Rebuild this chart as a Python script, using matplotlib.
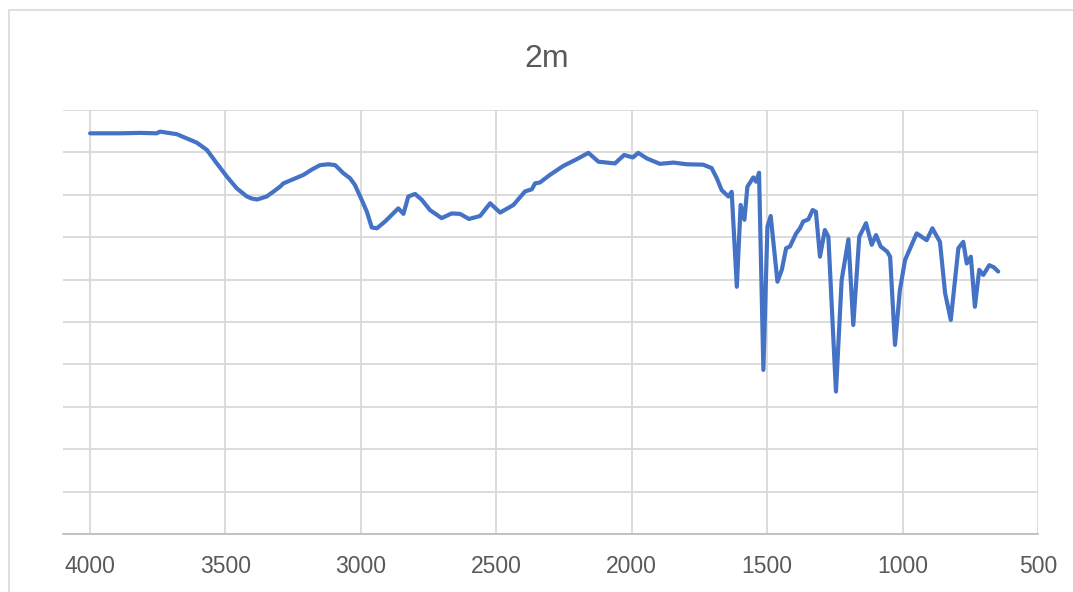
import numpy as np
import matplotlib
matplotlib.use('Agg')
import matplotlib.pyplot as plt
from matplotlib import font_manager
from matplotlib.patches import Rectangle

# IR spectrum values
wavenumber = [4000, 3889, 3815, 3754, 3742, 3680, 3643, 3606, 3569, 3532,
              3495, 3458, 3421, 3402, 3383, 3363, 3348, 3322, 3299, 3286,
              3212, 3180, 3151, 3120, 3095, 3065, 3040, 3022, 2997, 2978,
              2960, 2941, 2911, 2862, 2843, 2825, 2800, 2775, 2745, 2702,
              2665, 2634, 2601, 2560, 2523, 2486, 2437, 2394, 2369, 2357,
              2339, 2302, 2253, 2203, 2160, 2123, 2092, 2062, 2028, 1996,
              1976, 1945, 1896, 1846, 1797, 1736, 1705, 1686, 1668, 1643,
              1631, 1612, 1598, 1584, 1573, 1551, 1541, 1530, 1514, 1499,
              1487, 1462, 1446, 1430, 1416, 1393, 1379, 1367, 1348, 1332,
              1320, 1305, 1287, 1274, 1246, 1225, 1200, 1182, 1160, 1135,
              1114, 1098, 1081, 1057, 1046, 1028, 1010, 991, 948, 911,
              890, 862, 843, 822, 794, 776, 763, 748, 733, 717,
              702, 680, 663, 647]
transmittance = [94.5, 94.5, 94.6, 94.5, 94.9, 94.3, 93.3, 92.3, 90.6, 87.4,
                 84.3, 81.5, 79.6, 79.1, 78.9, 79.3, 79.6, 80.8, 81.9, 82.7,
                 84.7, 86.0, 87.0, 87.2, 87.0, 85.1, 83.9, 82.3, 78.8, 76.0,
                 72.3, 72.1, 73.7, 76.8, 75.5, 79.6, 80.2, 78.8, 76.4, 74.5,
                 75.6, 75.5, 74.3, 75.0, 78.0, 75.8, 77.6, 80.8, 81.3, 82.7,
                 82.9, 84.7, 86.8, 88.4, 89.9, 87.8, 87.6, 87.4, 89.4, 88.8,
                 89.9, 88.6, 87.3, 87.6, 87.2, 87.1, 86.3, 83.9, 81.1, 79.6,
                 80.7, 58.3, 77.6, 74.1, 81.9, 84.1, 83.1, 85.2, 38.7, 72.5,
                 75.0, 59.5, 62.3, 67.4, 67.8, 70.9, 72.1, 73.7, 74.2, 76.4,
                 76.0, 65.4, 71.7, 70.1, 33.6, 59.9, 69.5, 49.3, 70.1, 73.3,
                 68.2, 70.5, 67.8, 66.6, 65.4, 44.6, 57.5, 64.6, 70.9, 69.3,
                 72.1, 68.9, 56.8, 50.5, 67.4, 68.9, 63.8, 65.4, 53.6, 62.3,
                 61.1, 63.4, 62.9, 61.9]
x_ticks = [4000, 3500, 3000, 2500, 2000, 1500, 1000, 500]
title = '2m'

# pick a narrow font if the system has one
names = set(f.name for f in font_manager.fontManager.ttflist)
fam = 'Liberation Sans Narrow' if 'Liberation Sans Narrow' in names else 'Liberation Sans'
plt.rcParams['font.family'] = [fam, 'DejaVu Sans']

W, H = 1073, 592
fig = plt.figure(figsize=(W / 100, H / 100), dpi=100)
fig.patches.append(Rectangle((9 / W, -0.1), 1.2, 1.1 - 10 / H, transform=fig.transFigure,
                             fill=False, edgecolor='#d9d9d9', lw=1.2))

ax = fig.add_axes([63 / W, (H - 534) / H, (1038 - 63) / W, (534 - 110) / H])
ax.plot(wavenumber, transmittance, color='#4472C4', lw=3.0,
        solid_joinstyle='round', solid_capstyle='round', zorder=3)

ax.set_xlim(4100, 500)
ax.set_ylim(0, 100)
ax.set_xticks(x_ticks)
ax.set_yticks(np.arange(0, 101, 10))
ax.set_yticklabels([])
ax.grid(True, color='#d9d9d9', lw=1.3)
ax.tick_params(axis='both', length=0)
ax.tick_params(axis='x', pad=15, labelsize=16.5, labelcolor='#595959')
for s in ['top', 'right', 'left']:
    ax.spines[s].set_visible(False)
ax.spines['bottom'].set_color('#bfbfbf')
ax.spines['bottom'].set_linewidth(1.3)

fig.text(547 / W, 1 - 67 / H, title, ha='center', va='baseline', fontsize=23, color='#595959')

plt.savefig('out.png', dpi=100)
